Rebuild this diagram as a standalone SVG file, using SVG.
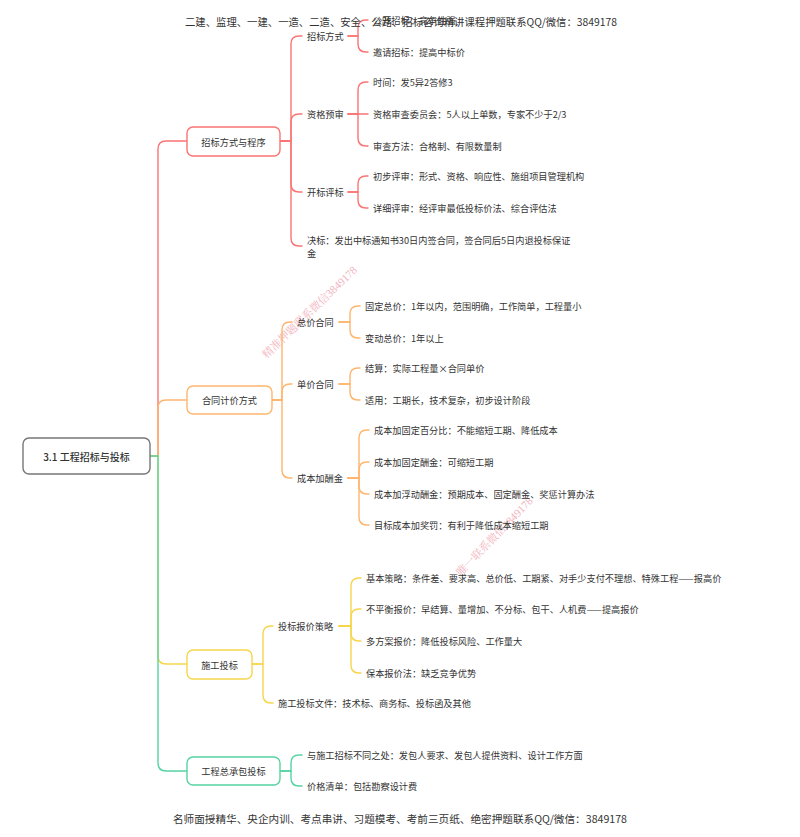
<svg xmlns="http://www.w3.org/2000/svg" width="800" height="837" viewBox="0 0 800 837">
<style>
text{font-family:"Noto Sans CJK SC","Noto Sans",sans-serif;fill:#333;font-size:9.2px;dominant-baseline:central}
.root{font-size:10px;font-weight:500;text-anchor:middle}
.l1{text-anchor:middle}
.wm{font-family:"Liberation Serif","Noto Serif CJK SC","Noto Sans CJK SC",serif;fill:#f2b3bd;font-size:11px}
.hd{font-size:10.5px}
path{fill:none;stroke-width:1.4;stroke-linecap:round}
.r{stroke:#fb7474}.o{stroke:#ffb56e}.y{stroke:#f6d64c}.g{stroke:#56d4a2}
rect{fill:#fff;stroke-width:1.4}
</style>
<rect width="800" height="837" fill="#fff" stroke="none"/>
<g id="watermarks">
<text class="wm" transform="translate(264,356) rotate(-44)">精准押题联系微信3849178</text>
<text class="wm" transform="translate(458,574) rotate(-46)">唯一联系微信3849178</text>
</g>
<g id="connectors">
<path class="r" d="M150,456 H158 V149 Q158,141 166,141 H187"/>
<path class="o" d="M150,456 H158 V408 Q158,400 166,400 H187"/>
<path class="y" d="M150,456 H158 V656 Q158,664 166,664 H187"/>
<path class="g" d="M150,456 H158 V763 Q158,771 166,771 H187"/>
<path class="r" d="M280,141 H291 V44 Q291,36 299,36 H302"/>
<path class="r" d="M280,141 H291 V122 Q291,114 299,114 H302"/>
<path class="r" d="M280,141 H291 V184 Q291,192 299,192 H302"/>
<path class="r" d="M280,141 H291 V238 Q291,246 299,246 H302"/>
<path class="r" d="M348,36 H358 V28 Q358,20 366,20 H368"/>
<path class="r" d="M348,36 H358 V44 Q358,52 366,52 H368"/>
<path class="r" d="M348,114 H358 V90 Q358,82 366,82 H368"/>
<path class="r" d="M348,114 H368"/>
<path class="r" d="M348,114 H358 V138 Q358,146 366,146 H368"/>
<path class="r" d="M348,192 H358 V184 Q358,176 366,176 H368"/>
<path class="r" d="M348,192 H358 V200 Q358,208 366,208 H368"/>
<path class="o" d="M272,400 H282 V330 Q282,322 290,322 H292"/>
<path class="o" d="M272,400 H282 V392 Q282,384 290,384 H292"/>
<path class="o" d="M272,400 H282 V470 Q282,478 290,478 H292"/>
<path class="o" d="M339,322 H350 V314 Q350,306 358,306 H360"/>
<path class="o" d="M339,322 H350 V330 Q350,338 358,338 H360"/>
<path class="o" d="M339,384 H350 V376 Q350,368 358,368 H360"/>
<path class="o" d="M339,384 H350 V392 Q350,400 358,400 H360"/>
<path class="o" d="M348,478 H359 V438 Q359,430 367,430 H369"/>
<path class="o" d="M348,478 H359 V470 Q359,462 367,462 H369"/>
<path class="o" d="M348,478 H359 V486 Q359,494 367,494 H369"/>
<path class="o" d="M348,478 H359 V517 Q359,525 367,525 H369"/>
<path class="y" d="M252,664 H263 V634 Q263,626 271,626 H273"/>
<path class="y" d="M252,664 H263 V695 Q263,703 271,703 H273"/>
<path class="y" d="M339,626 H351 V586 Q351,578 359,578 H361"/>
<path class="y" d="M339,626 H351 V617 Q351,609 359,609 H361"/>
<path class="y" d="M339,626 H351 V633 Q351,641 359,641 H361"/>
<path class="y" d="M339,626 H351 V665 Q351,673 359,673 H361"/>
<path class="g" d="M280,771 H291 V763 Q291,755 299,755 H302"/>
<path class="g" d="M280,771 H291 V778 Q291,786 299,786 H302"/>
</g>
<g id="root">
<rect x="23" y="438" width="127" height="36" rx="6" stroke="#777"/>
<text class="root" x="86.5" y="456">3.1 工程招标与投标</text>
</g>
<g id="n1">
<rect x="187" y="127" width="93" height="29" rx="6" stroke="#fb7474"/>
<text class="l1" x="233.5" y="141.5">招标方式与程序</text>
</g>
<g id="n1-1"><text x="307" y="36">招标方式</text></g>
<g id="n1-1-1"><text x="373" y="20">公开招标：竞争性强</text></g>
<g id="n1-1-2"><text x="373" y="52">邀请招标：提高中标价</text></g>
<g id="n1-2"><text x="307" y="114">资格预审</text></g>
<g id="n1-2-1"><text x="373" y="82">时间：发5异2答修3</text></g>
<g id="n1-2-2"><text x="373" y="114">资格审查委员会：5人以上单数，专家不少于2/3</text></g>
<g id="n1-2-3"><text x="373" y="146">审查方法：合格制、有限数量制</text></g>
<g id="n1-3"><text x="307" y="192">开标评标</text></g>
<g id="n1-3-1"><text x="373" y="176">初步评审：形式、资格、响应性、施组项目管理机构</text></g>
<g id="n1-3-2"><text x="373" y="208">详细评审：经评审最低投标价法、综合评估法</text></g>
<g id="n1-4"><text x="307" y="240">决标：发出中标通知书30日内签合同，签合同后5日内退投标保证</text><text x="307" y="253">金</text></g>
<g id="n2">
<rect x="187" y="386" width="85" height="28" rx="6" stroke="#ffb56e"/>
<text class="l1" x="229.5" y="400">合同计价方式</text>
</g>
<g id="n2-1"><text x="297" y="322">总价合同</text></g>
<g id="n2-1-1"><text x="365" y="306">固定总价：1年以内，范围明确，工作简单，工程量小</text></g>
<g id="n2-1-2"><text x="365" y="338">变动总价：1年以上</text></g>
<g id="n2-2"><text x="297" y="384">单价合同</text></g>
<g id="n2-2-1"><text x="365" y="368">结算：实际工程量×合同单价</text></g>
<g id="n2-2-2"><text x="365" y="400">适用：工期长，技术复杂，初步设计阶段</text></g>
<g id="n2-3"><text x="297" y="478">成本加酬金</text></g>
<g id="n2-3-1"><text x="374" y="430">成本加固定百分比：不能缩短工期、降低成本</text></g>
<g id="n2-3-2"><text x="374" y="462">成本加固定酬金：可缩短工期</text></g>
<g id="n2-3-3"><text x="374" y="494">成本加浮动酬金：预期成本、固定酬金、奖惩计算办法</text></g>
<g id="n2-3-4"><text x="374" y="525">目标成本加奖罚：有利于降低成本缩短工期</text></g>
<g id="n3">
<rect x="187" y="650" width="65" height="29" rx="6" stroke="#f6d64c"/>
<text class="l1" x="219.5" y="664.5">施工投标</text>
</g>
<g id="n3-1"><text x="278" y="626">投标报价策略</text></g>
<g id="n3-1-1"><text x="366" y="578">基本策略：条件差、要求高、总价低、工期紧、对手少支付不理想、特殊工程——报高价</text></g>
<g id="n3-1-2"><text x="366" y="609">不平衡报价：早结算、量增加、不分标、包干、人机费——提高报价</text></g>
<g id="n3-1-3"><text x="366" y="641">多方案报价：降低投标风险、工作量大</text></g>
<g id="n3-1-4"><text x="366" y="673">保本报价法：缺乏竞争优势</text></g>
<g id="n3-2"><text x="278" y="703">施工投标文件：技术标、商务标、投标函及其他</text></g>
<g id="n4">
<rect x="187" y="757" width="93" height="28" rx="6" stroke="#56d4a2"/>
<text class="l1" x="233.5" y="771">工程总承包投标</text>
</g>
<g id="n4-1"><text x="307" y="755">与施工招标不同之处：发包人要求、发包人提供资料、设计工作方面</text></g>
<g id="n4-2"><text x="307" y="786">价格清单：包括勘察设计费</text></g>
<g id="header"><text class="hd" x="185" y="21" textLength="432" lengthAdjust="spacingAndGlyphs">二建、监理、一建、一造、二造、安全、公路、招标咨询精讲课程押题联系QQ/微信：3849178</text></g>
<g id="footer"><text class="hd" x="173" y="818" textLength="454" lengthAdjust="spacingAndGlyphs">名师面授精华、央企内训、考点串讲、习题模考、考前三页纸、绝密押题联系QQ/微信：3849178</text></g>
</svg>
